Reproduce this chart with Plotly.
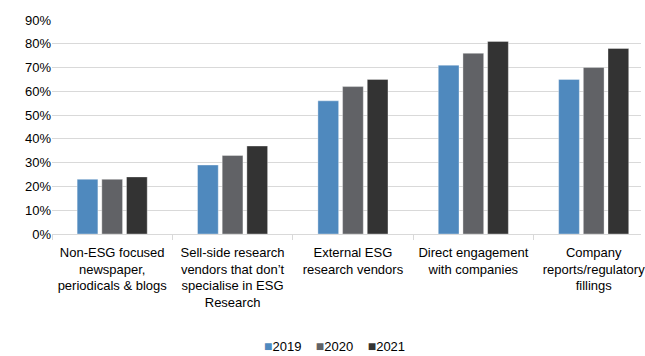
import plotly.graph_objects as go

categories = [
    "Non-ESG focused<br>newspaper,<br>periodicals & blogs",
    "Sell-side research<br>vendors that don\u2019t<br>specialise in ESG<br>Research",
    "External ESG<br>research vendors",
    "Direct engagement<br>with companies",
    "Company<br>reports/regulatory<br>fillings",
]
years = ["2019", "2020", "2021"]
values_2019 = [23, 29, 56, 71, 65]
values_2020 = [23, 33, 62, 76, 70]
values_2021 = [24, 37, 65, 81, 78]
colors = ["#4F89BE", "#616266", "#333333"]

y_ticks = [0, 10, 20, 30, 40, 50, 60, 70, 80, 90]
y_tick_text = [f"{v}%" for v in y_ticks]

FONT = "Liberation Sans, Arial, sans-serif"

fig = go.Figure()
for name, vals, col in zip(years, [values_2019, values_2020, values_2021], colors):
    fig.add_trace(go.Bar(
        name=name,
        x=categories,
        y=vals,
        marker=dict(color=col, line=dict(color="rgba(255,255,255,0.35)", width=1)),
        showlegend=False,
    ))

# compact legend line below the chart
gap = "\u00a0" * 4
legend_text = gap.join(
    f'<span style="color:{c};font-size:14px">\u25A0</span>{n}' for n, c in zip(years, colors)
)
fig.add_annotation(
    text=legend_text, xref="paper", yref="paper", x=0.479, y=-0.522,
    xanchor="center", yanchor="middle", showarrow=False,
    font=dict(family=FONT, size=13, color="#000000"),
)

fig.update_layout(
    width=645, height=356,
    margin=dict(l=52, r=0, t=20, b=122),
    paper_bgcolor="white", plot_bgcolor="white",
    barmode="group", bargap=0.385, bargroupgap=0.16,
    font=dict(family=FONT, size=13, color="#000000"),
    xaxis=dict(
        range=[-0.5, 4.393],
        showline=True, linecolor="#D9D9D9", linewidth=1,
        ticks="outside", tickson="boundaries", ticklen=5, tickcolor="#D9D9D9",
        showgrid=False, tickfont=dict(family=FONT, size=13),
        ticklabelstandoff=6,
    ),
    yaxis=dict(
        range=[0, 90], tickvals=y_ticks, ticktext=y_tick_text,
        showgrid=True, gridcolor="#D9D9D9", gridwidth=1,
        zeroline=False, showline=False, ticks="",
        tickfont=dict(family=FONT, size=13),
    ),
)

fig.write_html("out.html")
